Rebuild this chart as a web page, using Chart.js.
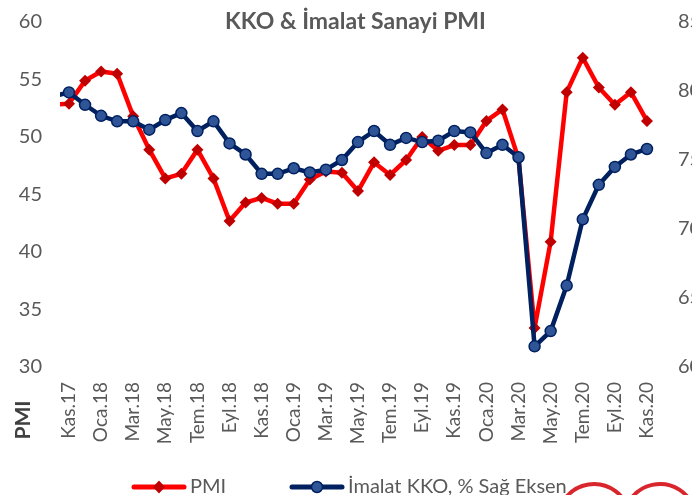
<!DOCTYPE html>
<html>
<head>
<meta charset="utf-8">
<script src="https://cdn.jsdelivr.net/npm/chart.js@4.4.1/dist/chart.umd.min.js"></script>
<style>
    html, body { margin: 0; padding: 0; background: #fff; overflow: hidden; }
</style>
</head>
<body>
<canvas id="kkoChart" width="692" height="495"></canvas>
<script>
// ================= DATA =================
// Eki.17 only feeds the short stub at the left edge
const months = ['Eki.17', 'Kas.17', 'Ara.17', 'Oca.18', 'Şub.18', 'Mar.18', 'Nis.18', 'May.18', 'Haz.18', 'Tem.18',
    'Ağu.18', 'Eyl.18', 'Eki.18', 'Kas.18', 'Ara.18', 'Oca.19', 'Şub.19', 'Mar.19', 'Nis.19', 'May.19',
    'Haz.19', 'Tem.19', 'Ağu.19', 'Eyl.19', 'Eki.19', 'Kas.19', 'Ara.19', 'Oca.20', 'Şub.20', 'Mar.20',
    'Nis.20', 'May.20', 'Haz.20', 'Tem.20', 'Ağu.20', 'Eyl.20', 'Eki.20', 'Kas.20'];

const xTickLabels = ['Kas.17', 'Oca.18', 'Mar.18', 'May.18', 'Tem.18', 'Eyl.18', 'Kas.18', 'Oca.19', 'Mar.19',
    'May.19', 'Tem.19', 'Eyl.19', 'Kas.19', 'Oca.20', 'Mar.20', 'May.20', 'Tem.20', 'Eyl.20', 'Kas.20'];

const pmiValues = [52.8, 52.9, 54.9, 55.7, 55.5, 51.8, 48.9, 46.4, 46.8, 48.9,
    46.4, 42.7, 44.3, 44.7, 44.2, 44.2, 46.3, 47.0, 46.9, 45.3,
    47.8, 46.7, 48.0, 50.0, 48.8, 49.3, 49.3, 51.4, 52.4, 48.1,
    33.4, 40.9, 53.9, 56.9, 54.3, 52.8, 53.9, 51.4];

const kkoValues = [79.6, 79.9, 79.0, 78.2, 77.8, 77.8, 77.2, 77.9, 78.4, 77.1,
    77.8, 76.2, 75.4, 74.0, 74.0, 74.4, 74.1, 74.3, 75.0, 76.3,
    77.1, 76.1, 76.6, 76.3, 76.4, 77.1, 77.0, 75.5, 76.1, 75.2,
    61.5, 62.6, 65.9, 70.7, 73.2, 74.5, 75.4, 75.8];

const leftTicks = [30, 35, 40, 45, 50, 55, 60];
const rightTicks = [60, 65, 70, 75, 80, 85];

const seriesNames = ['PMI', 'İmalat KKO, % Sağ Eksen'];

// ================= STYLE =================
const RED = '#FF0000';
const RED_DARK = '#C00000';
const NAVY = '#002060';
const BLUE = '#2F5597';
const GREY = '#595959';
const FONT = 'Lato';

function drawDiamond(g, x, y) {
    g.fillStyle = RED_DARK;
    g.beginPath();
    g.moveTo(x, y - 6.5);
    g.lineTo(x + 6, y);
    g.lineTo(x, y + 6.5);
    g.lineTo(x - 6, y);
    g.closePath();
    g.fill();
}

function drawDot(g, x, y) {
    g.fillStyle = BLUE;
    g.strokeStyle = NAVY;
    g.lineWidth = 1.5;
    g.beginPath();
    g.arc(x, y, 5.5, 0, 2 * Math.PI);
    g.fill();
    g.stroke();
}

// y eksenlerinin etiket payını sıfırla, alan üstü tam 60/85 çizgisinde olsun
function fitSide(width) {
    return axis => {
        axis.width = width;
        axis.paddingTop = 0;
        axis.paddingBottom = 0;
    };
}

// title, axis title, legend and the cut-off logo at the bottom right
const extrasPlugin = {
    id: 'extras',
    afterDraw(chart) {
        const { ctx, chartArea } = chart;
        ctx.save();

        // title
        ctx.fillStyle = GREY;
        ctx.font = `bold 23px ${FONT}`;
        ctx.textAlign = 'center';
        ctx.textBaseline = 'middle';
        ctx.fillText('KKO & İmalat Sanayi PMI', (chartArea.left + chartArea.right) / 2 - 2, 22);

        // axis title
        ctx.save();
        ctx.translate(23, 420);
        ctx.rotate(-Math.PI / 2);
        ctx.font = `bold 21px ${FONT}`;
        ctx.fillStyle = '#404040';
        ctx.fillText('PMI', 0, 0);
        ctx.restore();

        // legend
        const ly = 487;
        const items = [
            { x: 134, color: RED, marker: drawDiamond },
            { x: 292, color: NAVY, marker: drawDot }
        ];
        ctx.font = `20px ${FONT}`;
        ctx.textAlign = 'left';
        items.forEach((it, i) => {
            ctx.strokeStyle = it.color;
            ctx.lineWidth = 5;
            ctx.lineCap = 'round';
            ctx.beginPath();
            ctx.moveTo(it.x, ly);
            ctx.lineTo(it.x + 50, ly);
            ctx.stroke();
            it.marker(ctx, it.x + 25, ly);
            ctx.fillStyle = GREY;
            ctx.fillText(seriesNames[i], it.x + 56, ly);
        });

        // logo remnant
        ctx.strokeStyle = '#D9262C';
        ctx.lineWidth = 4;
        ctx.beginPath();
        ctx.arc(594, 520, 36, 1.2 * Math.PI, 1.82 * Math.PI);
        ctx.stroke();
        ctx.beginPath();
        ctx.arc(660, 520, 36, 1.18 * Math.PI, 1.82 * Math.PI);
        ctx.stroke();

        ctx.restore();
    }
};

new Chart(document.getElementById('kkoChart'), {
    type: 'line',
    data: {
        datasets: [{
            label: seriesNames[0],
            data: pmiValues.map((v, i) => ({ x: i, y: v })),
            yAxisID: 'y',
            borderColor: RED,
            borderWidth: 4.5,
            pointStyle: 'rectRot',
            pointRadius: 6,
            pointBackgroundColor: RED_DARK,
            pointBorderColor: RED_DARK,
            pointBorderWidth: 0,
            tension: 0,
            clip: 0,
            order: 2
        }, {
            label: seriesNames[1],
            data: kkoValues.map((v, i) => ({ x: i, y: v })),
            yAxisID: 'y1',
            borderColor: NAVY,
            borderWidth: 4.5,
            pointStyle: 'circle',
            pointRadius: 5.5,
            pointBackgroundColor: BLUE,
            pointBorderColor: NAVY,
            pointBorderWidth: 1.5,
            tension: 0,
            clip: 0,
            order: 1
        }]
    },
    options: {
        responsive: false,
        animation: false,
        layout: {
            padding: { top: 22, bottom: 0, left: 0, right: 0 }
        },
        scales: {
            x: {
                type: 'linear',
                min: 0.44,
                max: 37.5,
                grid: { display: false, drawTicks: false },
                border: { display: false },
                afterBuildTicks: axis => {
                    axis.ticks = xTickLabels.map(l => ({ value: months.indexOf(l) }));
                },
                afterFit: axis => { axis.height = 128; },
                ticks: {
                    autoSkip: false,
                    minRotation: 90,
                    maxRotation: 90,
                    padding: 15,
                    color: GREY,
                    font: { family: FONT, size: 19 },
                    callback: v => months[v]
                }
            },
            y: {
                position: 'left',
                min: 30,
                max: 60,
                grid: { display: false, drawTicks: false },
                border: { display: false },
                afterBuildTicks: axis => {
                    axis.ticks = leftTicks.map(v => ({ value: v }));
                },
                afterFit: fitSide(60),
                ticks: {
                    padding: 18,
                    color: GREY,
                    font: { family: FONT, size: 20 }
                }
            },
            y1: {
                position: 'right',
                min: 60,
                max: 85,
                grid: { display: false, drawTicks: false },
                border: { display: false },
                afterBuildTicks: axis => {
                    axis.ticks = rightTicks.map(v => ({ value: v }));
                },
                afterFit: fitSide(37),
                ticks: {
                    padding: 23,
                    color: GREY,
                    font: { family: FONT, size: 20 }
                }
            }
        },
        plugins: {
            tooltip: { enabled: false },
            legend: { display: false }
        }
    },
    plugins: [extrasPlugin]
});
</script>
</body>
</html>
